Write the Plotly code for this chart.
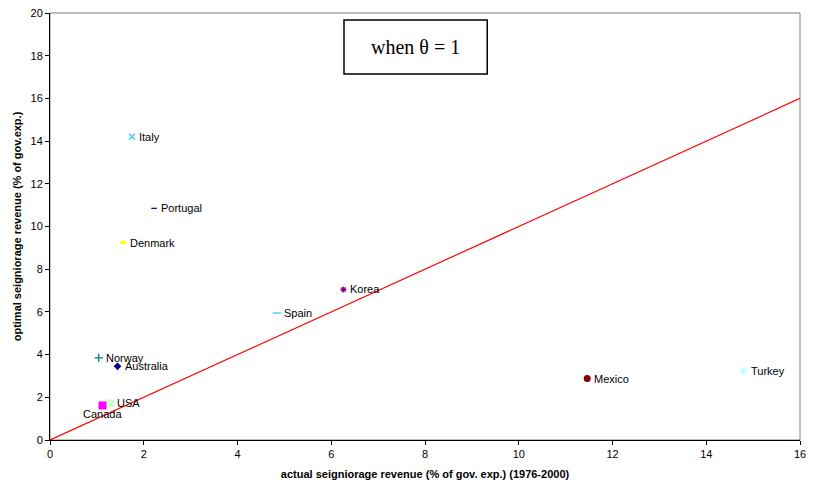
import plotly.graph_objects as go

countries = ["Italy", "Portugal", "Denmark", "Korea", "Spain", "Norway",
             "Australia", "USA", "Canada", "Mexico", "Turkey"]
actual = [1.75, 2.22, 1.56, 6.26, 4.84, 1.04, 1.44, 1.29, 1.12, 11.46, 14.80]
optimal = [14.20, 10.85, 9.25, 7.05, 5.95, 3.85, 3.45, 1.72, 1.62, 2.88, 3.25]
symbols = ["x-thin-open", "line-ew-open", "triangle-up", "asterisk-open", "line-ew-open",
           "cross-thin-open", "diamond", "square", "square", "circle", "diamond"]
colors = ["#33CCFF", "#0000FF", "#FFFF00", "#800080", "#33CCFF", "#008080",
          "#000080", "#CCFFCC", "#FF00FF", "#800000", "#CCFFFF"]
sizes = [6, 4, 7, 5, 6, 6, 6, 8, 8, 7, 7]

line_x = [0, 16]
line_y = [0, 16]

fig = go.Figure()
fig.add_trace(go.Scatter(x=line_x, y=line_y, mode="lines",
                         line=dict(color="#FF0000", width=1.2), showlegend=False,
                         hoverinfo="skip"))
label_font = dict(family="Liberation Sans, Arial", size=11, color="#000000")
for c, xv, yv, s, col, sz in zip(countries, actual, optimal, symbols, colors, sizes):
    marker = dict(symbol=s, size=sz, color=col)
    if s.endswith("-open"):
        marker["line"] = dict(color=col, width=1.3)
    else:
        marker["line"] = dict(width=0)
    fig.add_trace(go.Scatter(x=[xv], y=[yv], mode="markers", marker=marker,
                             showlegend=False, name=c))
    if c == "Canada":
        fig.add_annotation(x=xv, y=yv, text=c, showarrow=False, xanchor="center",
                           yanchor="middle", yshift=-9, font=label_font)
    else:
        fig.add_annotation(x=xv, y=yv, text=c, showarrow=False, xanchor="left",
                           yanchor="middle", xshift=5, font=label_font)

fig.add_shape(type="rect", xref="paper", yref="paper", x0=0, x1=1, y0=0, y1=1,
              line=dict(color="#808080", width=1), layer="below")
fig.add_shape(type="rect", xref="paper", yref="paper", x0=0.392, x1=0.583, y0=0.857, y1=0.9836,
              line=dict(color="#000000", width=1.5), fillcolor="#FFFFFF")
fig.add_annotation(xref="paper", yref="paper", x=0.4875, y=0.92, xanchor="center", yanchor="middle",
                   text="when θ = 1", showarrow=False,
                   font=dict(family="Liberation Serif, Times New Roman", size=20, color="#000000"))

axis_font = dict(family="Liberation Sans, Arial", size=11, color="#000000")
fig.update_xaxes(range=[0, 16], tickvals=[0, 2, 4, 6, 8, 10, 12, 14, 16], automargin=False,
                 ticklabeloverflow="allow",
                 showgrid=False, zeroline=False, showline=True, linecolor="#000000", linewidth=1,
                 ticks="outside", ticklen=4, tickcolor="#000000", tickfont=axis_font,
                 title=dict(text="<b>actual seigniorage revenue (% of gov. exp.) (1976-2000)</b>",
                            font=dict(family="Liberation Sans, Arial", size=11, color="#000000"), standoff=11))
fig.update_yaxes(range=[0, 20], tickvals=list(range(0, 21, 2)), automargin=False,
                 ticklabeloverflow="allow",
                 showgrid=False, zeroline=False, showline=True, linecolor="#000000", linewidth=1,
                 ticks="outside", ticklen=4, tickcolor="#000000", tickfont=axis_font,
                 title=dict(text="<b>optimal seigniorage revenue (% of gov.exp.)</b>",
                            font=dict(family="Liberation Sans, Arial", size=11, color="#000000"), standoff=6))
fig.update_layout(width=798, height=472, margin=dict(l=42, r=6, t=5, b=40),
                  plot_bgcolor="#FFFFFF", paper_bgcolor="#FFFFFF")
fig.write_html("out.html")
